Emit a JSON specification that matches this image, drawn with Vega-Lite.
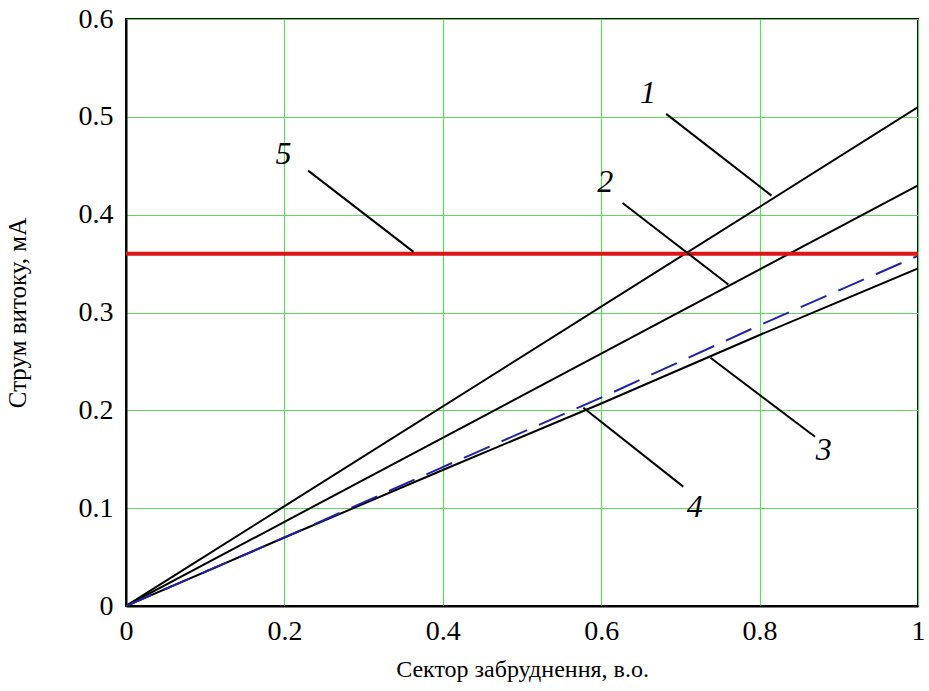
{
  "$schema": "https://vega.github.io/schema/vega-lite/v6.json",
  "width": 792,
  "height": 587,
  "autosize": {"type": "none"},
  "padding": {"left": 126, "top": 19, "right": 11, "bottom": 85},
  "background": "white",
  "config": {
    "view": {"stroke": "black", "strokeWidth": 2}
  },
  "datasets": {
    "curves": [
      {"x": 0, "y": 0, "curve": "1"},
      {"x": 1, "y": 0.51, "curve": "1"},
      {"x": 0, "y": 0, "curve": "2"},
      {"x": 1, "y": 0.43, "curve": "2"},
      {"x": 0, "y": 0, "curve": "4"},
      {"x": 0.2, "y": 0.070, "curve": "4"},
      {"x": 0.4, "y": 0.139, "curve": "4"},
      {"x": 0.6, "y": 0.207, "curve": "4"},
      {"x": 0.8, "y": 0.277, "curve": "4"},
      {"x": 1, "y": 0.345, "curve": "4"}
    ],
    "dashed": [
      {"x": 0, "y": 0, "curve": "3"},
      {"x": 0.2, "y": 0.070, "curve": "3"},
      {"x": 0.4, "y": 0.142, "curve": "3"},
      {"x": 0.6, "y": 0.213, "curve": "3"},
      {"x": 0.8, "y": 0.287, "curve": "3"},
      {"x": 1, "y": 0.358, "curve": "3"}
    ],
    "level": [
      {"x": 0, "y": 0.36, "curve": "5"},
      {"x": 1, "y": 0.36, "curve": "5"}
    ],
    "leaders": [
      {"x": 0.682, "y": 0.503, "x2": 0.815, "y2": 0.4195, "label": "1", "lx": 0.659, "ly": 0.524},
      {"x": 0.627, "y": 0.412, "x2": 0.7605, "y2": 0.3286, "label": "2", "lx": 0.605, "ly": 0.433},
      {"x": 0.738, "y": 0.2537, "x2": 0.870, "y2": 0.173, "label": "3", "lx": 0.881, "ly": 0.159},
      {"x": 0.5775, "y": 0.2027, "x2": 0.7036, "y2": 0.122, "label": "4", "lx": 0.718, "ly": 0.1015},
      {"x": 0.230, "y": 0.445, "x2": 0.363, "y2": 0.362, "label": "5", "lx": 0.199, "ly": 0.462}
    ]
  },
  "layer": [
    {
      "data": {"name": "curves"},
      "mark": {"type": "line", "color": "black", "strokeWidth": 2, "clip": true},
      "encoding": {
        "x": {
          "field": "x", "type": "quantitative",
          "scale": {"domain": [0, 1], "nice": false, "zero": false},
          "axis": {
            "values": [0, 0.2, 0.4, 0.6, 0.8, 1], "format": "~g",
            "title": "Сектор забруднення, в.о.",
            "labelFont": "Liberation Serif", "titleFont": "Liberation Serif",
            "labelFontSize": 28, "titleFontSize": 24, "titleFontWeight": "normal",
            "labelColor": "black", "titleColor": "black",
            "ticks": false, "domainColor": "black", "domainWidth": 2,
            "grid": true, "gridColor": "#5fd85f", "gridWidth": 1.2, "gridOpacity": 1,
            "labelPadding": 11, "titlePadding": 12, "labelFlush": false
          }
        },
        "y": {
          "field": "y", "type": "quantitative",
          "scale": {"domain": [0, 0.6], "nice": false, "zero": false},
          "axis": {
            "values": [0, 0.1, 0.2, 0.3, 0.4, 0.5, 0.6], "format": "~g",
            "title": "Струм витоку, мА",
            "labelFont": "Liberation Serif", "titleFont": "Liberation Serif",
            "labelFontSize": 28, "titleFontSize": 25, "titleFontWeight": "normal",
            "labelColor": "black", "titleColor": "black",
            "ticks": false, "domainColor": "black", "domainWidth": 2,
            "grid": true, "gridColor": "#5fd85f", "gridWidth": 1.2, "gridOpacity": 1,
            "labelPadding": 13, "titlePadding": 48, "labelFlush": false
          }
        },
        "detail": {"field": "curve"}
      }
    },
    {
      "data": {"name": "dashed"},
      "mark": {"type": "line", "color": "#2222a8", "strokeWidth": 2, "strokeDash": [28, 13], "clip": true},
      "encoding": {
        "x": {"field": "x", "type": "quantitative"},
        "y": {"field": "y", "type": "quantitative"}
      }
    },
    {
      "data": {"name": "level"},
      "mark": {"type": "line", "color": "#dd1515", "strokeWidth": 4, "clip": true},
      "encoding": {
        "x": {"field": "x", "type": "quantitative"},
        "y": {"field": "y", "type": "quantitative"}
      }
    },
    {
      "data": {"name": "leaders"},
      "mark": {"type": "rule", "color": "black", "strokeWidth": 2},
      "encoding": {
        "x": {"field": "x", "type": "quantitative"},
        "y": {"field": "y", "type": "quantitative"},
        "x2": {"field": "x2"},
        "y2": {"field": "y2"}
      }
    },
    {
      "data": {"name": "leaders"},
      "mark": {"type": "text", "font": "Liberation Serif", "fontStyle": "italic", "fontSize": 32, "color": "black", "align": "center", "baseline": "middle"},
      "encoding": {
        "x": {"field": "lx", "type": "quantitative"},
        "y": {"field": "ly", "type": "quantitative"},
        "text": {"field": "label"}
      }
    }
  ]
}
